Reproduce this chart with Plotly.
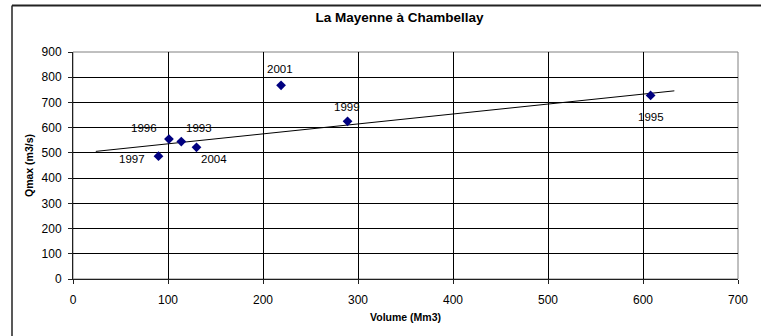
import plotly.graph_objects as go

# ---- data ----
years = ["1993", "1995", "1996", "1997", "1999", "2001", "2004"]
volume_mm3 = [114, 608, 101, 90, 289, 219, 130]
qmax_m3s = [545, 728, 555, 487, 625, 768, 522]

trend_x = [24, 633]
trend_y = [506, 746]

x_ticks = [0, 100, 200, 300, 400, 500, 600, 700]
y_ticks = [0, 100, 200, 300, 400, 500, 600, 700, 800, 900]

title_text = "La Mayenne à Chambellay"
x_title = "Volume (Mm3)"
y_title = "Qmax (m3/s)"

# ---- style: label pixel offsets (dx right, dy up) ----
label_offsets = {
    "1993": (18, 14),
    "1995": (0, -22),
    "1996": (-25, 11),
    "1997": (-27, -3),
    "1999": (-1, 14),
    "2001": (-1, 16),
    "2004": (17, -12),
}

FONT = "Liberation Sans, Arial, Helvetica, sans-serif"

W, H = 761, 336
ML, MR, MT, MB = 73, 23, 52, 57
PW, PH = W - ML - MR, H - MT - MB

fig = go.Figure()

fig.add_trace(go.Scatter(
    x=trend_x, y=trend_y, mode="lines",
    line=dict(color="black", width=1),
    hoverinfo="skip", showlegend=False,
))

fig.add_trace(go.Scatter(
    x=volume_mm3, y=qmax_m3s, mode="markers",
    marker=dict(symbol="diamond", size=7.5, color="#000080",
                line=dict(width=0)),
    text=years, showlegend=False,
))

for yr, xv, yv in zip(years, volume_mm3, qmax_m3s):
    dx, dy = label_offsets[yr]
    fig.add_annotation(
        x=xv, y=yv, text=yr, showarrow=False,
        xshift=dx, yshift=dy,
        font=dict(family=FONT, size=11.5, color="black"),
    )

# outer chart border: top and left edges (the rest lies outside the crop)
bx = (12 - ML) / PW          # left edge at x=12px
by = (H - MB - 5.5) / PH     # top edge at y=5.5px
fig.add_shape(type="line", xref="paper", yref="paper",
              x0=bx, x1=(W - ML) / PW + 0.01, y0=by, y1=by,
              line=dict(color="#222222", width=2))
fig.add_shape(type="line", xref="paper", yref="paper",
              x0=bx, x1=bx, y0=-MB / PH - 0.01, y1=by,
              line=dict(color="#222222", width=1.5))

# plot-area border (grey)
fig.add_shape(type="rect", xref="paper", yref="paper",
              x0=0, x1=1, y0=0, y1=1,
              line=dict(color="#808080", width=1), layer="below")

fig.update_layout(
    width=W, height=H,
    margin=dict(l=ML, r=MR, t=MT, b=MB),
    paper_bgcolor="white", plot_bgcolor="white",
    font=dict(family=FONT, color="black"),
    title=dict(text="<b>" + title_text + "</b>",
               xref="container", yref="container",
               x=399.5 / W, y=1 - 17 / H,
               xanchor="center", yanchor="middle",
               font=dict(family=FONT, size=13.5, color="black")),
)

fig.update_xaxes(
    range=[0, 700], tickvals=x_ticks,
    showgrid=True, gridcolor="black", gridwidth=1,
    zeroline=False,
    showline=True, linecolor="#202020", linewidth=1,
    ticks="outside", ticklen=4, tickcolor="#202020",
    ticklabelstandoff=6,
    tickfont=dict(family=FONT, size=12, color="black"),
    title=dict(text="<b>" + x_title + "</b>", standoff=7,
               font=dict(family=FONT, size=10.5, color="black")),
)
fig.update_yaxes(
    range=[0, 900], tickvals=y_ticks,
    showgrid=True, gridcolor="black", gridwidth=1,
    zeroline=False,
    showline=True, linecolor="#202020", linewidth=1,
    ticks="outside", ticklen=4, tickcolor="#202020",
    ticklabelstandoff=4,
    tickfont=dict(family=FONT, size=12, color="black"),
    title=dict(text="<b>" + y_title + "</b>", standoff=5,
               font=dict(family=FONT, size=10.5, color="black")),
)

# remove the default page margin so the 761x336 figure fills the window
fig.write_html("out.html",
               config={"displayModeBar": False},
               post_script="document.body.style.margin='0';"
                           "document.body.style.overflow='hidden';")
